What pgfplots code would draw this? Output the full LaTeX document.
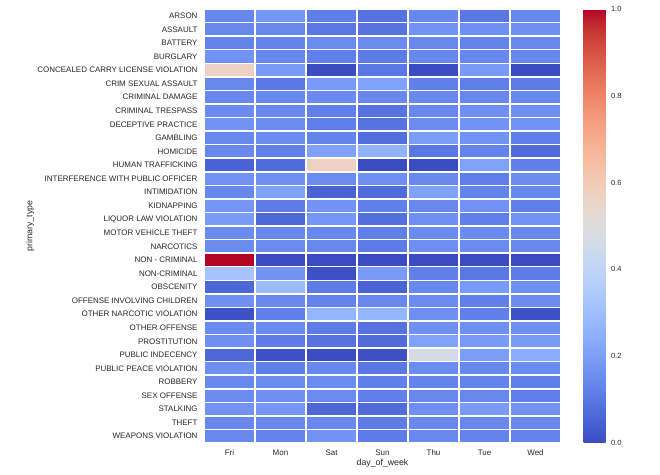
\documentclass[border=0pt]{standalone}
\usepackage{fontspec}
\setmainfont{Liberation Sans}
\usepackage{pgfplots}
\pgfplotsset{compat=1.18}
\definecolor{txt}{RGB}{38,38,38}
\begin{document}
\begin{tikzpicture}
\useasboundingbox (0,0) rectangle (660bp,475bp);
\begin{axis}[
 at={(204bp,32bp)}, anchor=south west,
 scale only axis, width=357bp, height=434bp,
 xmin=-0.5, xmax=6.5, ymin=-0.5, ymax=31.5, y dir=reverse,
 axis line style={draw=none},
 major tick length=0pt,
 xtick={0,...,6}, xticklabels={Fri,Mon,Sat,Sun,Thu,Tue,Wed},
 ytick={0,...,31},
 yticklabels={ARSON,ASSAULT,BATTERY,BURGLARY,CONCEALED CARRY LICENSE VIOLATION,CRIM SEXUAL ASSAULT,CRIMINAL DAMAGE,CRIMINAL TRESPASS,DECEPTIVE PRACTICE,GAMBLING,HOMICIDE,HUMAN TRAFFICKING,INTERFERENCE WITH PUBLIC OFFICER,INTIMIDATION,KIDNAPPING,LIQUOR LAW VIOLATION,MOTOR VEHICLE THEFT,NARCOTICS,NON - CRIMINAL,NON-CRIMINAL,OBSCENITY,OFFENSE INVOLVING CHILDREN,OTHER NARCOTIC VIOLATION,OTHER OFFENSE,PROSTITUTION,PUBLIC INDECENCY,PUBLIC PEACE VIOLATION,ROBBERY,SEX OFFENSE,STALKING,THEFT,WEAPONS VIOLATION},
 tick label style={font=\fontsize{8}{9}\selectfont, text=txt},
 yticklabel style={xshift=-3bp},
 xticklabel style={yshift=-3bp},
 xlabel={day\_of\_week}, ylabel={primary\_type},
 label style={font=\fontsize{8.8}{10}\selectfont, text=txt},
 xlabel style={at={(axis description cs:0.5,-0.046)}, anchor=center},
 ylabel style={at={(axis description cs:-0.4874,0.5)}, anchor=center},
 colormap={coolwarm}{
  rgb=(0.2298,0.2987,0.7537) rgb=(0.2662,0.3531,0.8015) rgb=(0.3039,0.4065,0.8450) rgb=(0.3428,0.4588,0.8837)
  rgb=(0.3830,0.5094,0.9174) rgb=(0.4244,0.5581,0.9456) rgb=(0.4667,0.6046,0.9682) rgb=(0.5096,0.6483,0.9848)
  rgb=(0.5530,0.6889,0.9954) rgb=(0.5963,0.7261,0.9998) rgb=(0.6392,0.7596,0.9982) rgb=(0.6813,0.7890,0.9904)
  rgb=(0.7222,0.8140,0.9766) rgb=(0.7615,0.8343,0.9569) rgb=(0.7987,0.8498,0.9317) rgb=(0.8335,0.8602,0.9011)
  rgb=(0.8654,0.8654,0.8654) rgb=(0.8978,0.8489,0.8209) rgb=(0.9241,0.8274,0.7745) rgb=(0.9445,0.8009,0.7267)
  rgb=(0.9589,0.7698,0.6780) rgb=(0.9673,0.7341,0.6288) rgb=(0.9700,0.6943,0.5794) rgb=(0.9668,0.6504,0.5303)
  rgb=(0.9580,0.6028,0.4818) rgb=(0.9437,0.5518,0.4342) rgb=(0.9239,0.4973,0.3880) rgb=(0.8990,0.4396,0.3432)
  rgb=(0.8692,0.3783,0.3003) rgb=(0.8346,0.3129,0.2593) rgb=(0.7956,0.2413,0.2205) rgb=(0.7525,0.1572,0.1841)
  rgb=(0.7057,0.0156,0.1502)},
 point meta min=0, point meta max=1,
 colorbar,
 colorbar/width=22bp,
 colorbar style={at={(parent axis.north east)}, anchor=north west, xshift=14bp,
   scale only axis, width=22bp, height=434bp,
   axis line style={draw=none}, major tick length=0pt, ytick={0,0.2,0.4,0.6,0.8,1},
   yticklabel pos=right,
   yticklabel style={font=\fontsize{7.5}{9}\selectfont, text=txt, xshift=2bp, /pgf/number format/.cd, fixed, fixed zerofill, precision=1, assume math mode=true}},
]
\addplot[matrix plot*, mesh/cols=7, point meta=explicit, draw=white, line width=1.5bp] table[x=x, y=y, meta=c, row sep=\\]{
x y c\\
0 0 .14\\ 1 0 .18\\ 2 0 .12\\ 3 0 .09\\ 4 0 .14\\ 5 0 .10\\ 6 0 .14\\
0 1 .14\\ 1 1 .14\\ 2 1 .10\\ 3 1 .09\\ 4 1 .17\\ 5 1 .16\\ 6 1 .16\\
0 2 .13\\ 1 2 .13\\ 2 2 .15\\ 3 2 .15\\ 4 2 .14\\ 5 2 .13\\ 6 2 .14\\
0 3 .17\\ 1 3 .14\\ 2 3 .12\\ 3 3 .11\\ 4 3 .14\\ 5 3 .14\\ 6 3 .14\\
0 4 .57\\ 1 4 .19\\ 2 4 .00\\ 3 4 .10\\ 4 4 .00\\ 5 4 .19\\ 6 4 .00\\
0 5 .14\\ 1 5 .10\\ 2 5 .19\\ 3 5 .21\\ 4 5 .12\\ 5 5 .12\\ 6 5 .11\\
0 6 .14\\ 1 6 .14\\ 2 6 .15\\ 3 6 .14\\ 4 6 .14\\ 5 6 .14\\ 6 6 .14\\
0 7 .15\\ 1 7 .14\\ 2 7 .12\\ 3 7 .09\\ 4 7 .14\\ 5 7 .16\\ 6 7 .16\\
0 8 .17\\ 1 8 .15\\ 2 8 .12\\ 3 8 .09\\ 4 8 .15\\ 5 8 .17\\ 6 8 .17\\
0 9 .14\\ 1 9 .15\\ 2 9 .13\\ 3 9 .08\\ 4 9 .20\\ 5 9 .17\\ 6 9 .12\\
0 10 .14\\ 1 10 .12\\ 2 10 .21\\ 3 10 .26\\ 4 10 .10\\ 5 10 .13\\ 6 10 .07\\
0 11 .05\\ 1 11 .07\\ 2 11 .57\\ 3 11 .00\\ 4 11 .00\\ 5 11 .21\\ 6 11 .12\\
0 12 .17\\ 1 12 .16\\ 2 12 .15\\ 3 12 .16\\ 4 12 .14\\ 5 12 .12\\ 6 12 .15\\
0 13 .14\\ 1 13 .21\\ 2 13 .05\\ 3 13 .07\\ 4 13 .21\\ 5 13 .13\\ 6 13 .14\\
0 14 .18\\ 1 14 .11\\ 2 14 .17\\ 3 14 .12\\ 4 14 .14\\ 5 14 .17\\ 6 14 .12\\
0 15 .19\\ 1 15 .06\\ 2 15 .18\\ 3 15 .08\\ 4 15 .16\\ 5 15 .12\\ 6 15 .17\\
0 16 .15\\ 1 16 .14\\ 2 16 .14\\ 3 16 .12\\ 4 16 .15\\ 5 16 .15\\ 6 16 .14\\
0 17 .15\\ 1 17 .15\\ 2 17 .14\\ 3 17 .11\\ 4 17 .16\\ 5 17 .15\\ 6 17 .14\\
0 18 1.0\\ 1 18 .00\\ 2 18 .00\\ 3 18 .00\\ 4 18 .00\\ 5 18 .00\\ 6 18 .00\\
0 19 .32\\ 1 19 .17\\ 2 19 .01\\ 3 19 .19\\ 4 19 .12\\ 5 19 .10\\ 6 19 .11\\
0 20 .06\\ 1 20 .29\\ 2 20 .11\\ 3 20 .05\\ 4 20 .14\\ 5 20 .19\\ 6 20 .16\\
0 21 .16\\ 1 21 .14\\ 2 21 .13\\ 3 21 .14\\ 4 21 .15\\ 5 21 .12\\ 6 21 .15\\
0 22 .01\\ 1 22 .12\\ 2 22 .27\\ 3 22 .27\\ 4 22 .16\\ 5 22 .12\\ 6 22 .01\\
0 23 .15\\ 1 23 .15\\ 2 23 .11\\ 3 23 .09\\ 4 23 .16\\ 5 23 .16\\ 6 23 .16\\
0 24 .16\\ 1 24 .11\\ 2 24 .09\\ 3 24 .07\\ 4 24 .21\\ 5 24 .19\\ 6 24 .19\\
0 25 .06\\ 1 25 .01\\ 2 25 .00\\ 3 25 .01\\ 4 25 .47\\ 5 25 .20\\ 6 25 .24\\
0 26 .16\\ 1 26 .12\\ 2 26 .14\\ 3 26 .10\\ 4 26 .15\\ 5 26 .14\\ 6 26 .15\\
0 27 .14\\ 1 27 .15\\ 2 27 .15\\ 3 27 .12\\ 4 27 .13\\ 5 27 .13\\ 6 27 .12\\
0 28 .15\\ 1 28 .16\\ 2 28 .15\\ 3 28 .12\\ 4 28 .14\\ 5 28 .14\\ 6 28 .12\\
0 29 .17\\ 1 29 .18\\ 2 29 .06\\ 3 29 .07\\ 4 29 .16\\ 5 29 .19\\ 6 29 .17\\
0 30 .14\\ 1 30 .14\\ 2 30 .14\\ 3 30 .11\\ 4 30 .14\\ 5 30 .14\\ 6 30 .14\\
0 31 .14\\ 1 31 .13\\ 2 31 .17\\ 3 31 .11\\ 4 31 .14\\ 5 31 .13\\ 6 31 .13\\
};
\end{axis}
\end{tikzpicture}
\end{document}
